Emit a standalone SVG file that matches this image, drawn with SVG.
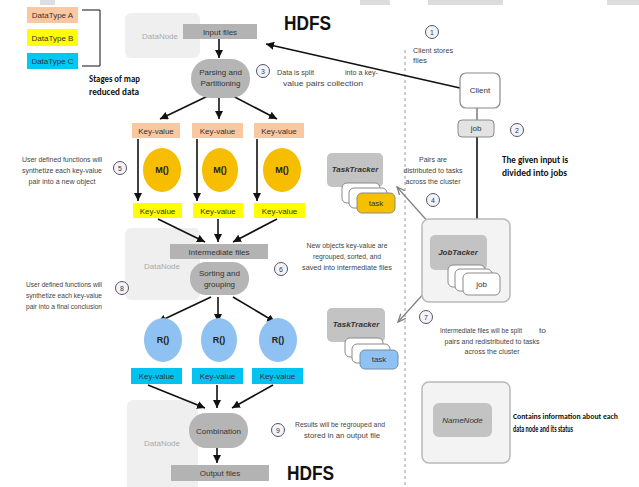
<svg xmlns="http://www.w3.org/2000/svg" width="639" height="487" viewBox="0 0 639 487">
  <defs>
    <marker id="ah" markerUnits="userSpaceOnUse" markerWidth="9" markerHeight="8" refX="8" refY="4" orient="auto">
      <path d="M0,0 L8,4 L0,8 z" fill="#111"/>
    </marker>
    <marker id="ahg" markerUnits="userSpaceOnUse" markerWidth="9" markerHeight="8" refX="8" refY="4" orient="auto">
      <path d="M0,0.5 L8,4 L0,7.5" fill="none" stroke="#808080" stroke-width="1.3"/>
    </marker>
    <style>
      text { font-family: "Liberation Sans", Arial, sans-serif; fill: #333; }
      .lbl { font-size: 8px; text-anchor: middle; }
      .note { font-size: 8px; fill: #444; }
      .sm { font-size: 7.5px; }
      .c { text-anchor: middle; }
      .bold { font-family: Carlito, "Liberation Sans", sans-serif; font-weight: bold; font-size: 10px; fill: #111; }
      .bsm { font-size: 8.5px; }
      .hdfs { font-weight: bold; font-size: 21px; fill: #111; }
      .dn { fill: #efefef; }
      .dntxt { font-size: 8px; fill: #aaa; text-anchor: middle; }
      .bar { fill: #b3b3b3; }
      .pill { fill: #b5b5b5; }
      .kvA { fill: #f9c8a0; }
      .kvB { fill: #ffff00; }
      .kvC { fill: #00c3f2; }
      .map { fill: #f7bd00; }
      .red { fill: #8fc2f2; }
      .fn { font-size: 9px; font-weight: bold; text-anchor: middle; fill: #222; }
      .arrow { stroke: #111; stroke-width: 1.6; fill: none; marker-end: url(#ah); }
      .garrow { stroke: #808080; stroke-width: 1.2; fill: none; marker-end: url(#ahg); }
      .step circle { fill: #f3f4fa; stroke: #556; stroke-width: 1; }
      .step text { font-size: 7px; text-anchor: middle; fill: #334; }
      .card { fill: #ffffff; stroke: #8a8a8a; stroke-width: 1; }
      .tracker { fill: #c3c3c3; }
      .ital { font-size: 8px; font-style: italic; font-weight: bold; text-anchor: middle; fill: #333; }
      .frame { fill: #f3f3f3; stroke: #b9b9b9; stroke-width: 1.5; }
    </style>
  </defs>

  <rect width="639" height="487" fill="#ffffff"/>

  <!-- scan strip along the top edge -->
  <g id="top-strip" fill="#d4d4d4" opacity="0.8">
    <rect x="40" y="0" width="15" height="5"/>
    <rect x="360" y="0" width="30" height="5"/>
    <rect x="428" y="0" width="75" height="5"/>
    <rect x="607" y="0" width="32" height="5"/>
  </g>

  <!-- legend -->
  <g id="legend">
    <rect class="kvA" x="27" y="7" width="51" height="16"/>
    <text class="lbl" x="52.5" y="18">DataType A</text>
    <rect class="kvB" x="27" y="29" width="51" height="17"/>
    <text class="lbl" x="52.5" y="40.5">DataType B</text>
    <rect x="27" y="53" width="51" height="16" fill="#00c8f5"/>
    <text class="lbl" x="52.5" y="64">DataType C</text>
    <polyline points="82,10 100,10 100,66 82,66" fill="none" stroke="#111" stroke-width="1"/>
    <text class="bold" x="89" y="82" textLength="51" lengthAdjust="spacingAndGlyphs">Stages of map</text>
    <text class="bold" x="89" y="95" textLength="50" lengthAdjust="spacingAndGlyphs">reduced data</text>
  </g>

  <!-- HDFS labels -->
  <text class="hdfs" x="284" y="30" textLength="47" lengthAdjust="spacingAndGlyphs">HDFS</text>
  <text class="hdfs" x="287" y="480" textLength="47" lengthAdjust="spacingAndGlyphs">HDFS</text>

  <!-- data nodes (background panels) -->
  <g id="datanode-top">
    <rect class="dn" x="125" y="13" width="75" height="45" rx="6"/>
    <text class="dntxt" x="160" y="39">DataNode</text>
  </g>
  <g id="datanode-mid">
    <rect class="dn" x="125" y="228" width="75" height="72" rx="6"/>
    <text class="dntxt" x="162" y="269">DataNode</text>
  </g>
  <g id="datanode-bottom">
    <rect class="dn" x="127" y="400" width="71" height="95" rx="6"/>
    <text class="dntxt" x="162" y="446">DataNode</text>
  </g>

  <!-- separator -->
  <line x1="405" y1="50" x2="405" y2="487" stroke="#9a9a9a" stroke-width="1" stroke-dasharray="3,3"/>

  <!-- connectors -->
  <g id="connectors">
    <line class="arrow" x1="460" y1="88" x2="266" y2="44"/>
    <line x1="477" y1="108" x2="477" y2="120" stroke="#555" stroke-width="1.2"/>
    <line class="arrow" x1="477" y1="137" x2="477" y2="236"/>
    <line class="garrow" x1="438" y1="233" x2="397" y2="187"/>
    <line class="garrow" x1="445" y1="270" x2="398" y2="322"/>

    <line class="arrow" x1="219" y1="39" x2="219" y2="58"/>
    <line class="arrow" x1="212" y1="94" x2="160" y2="119"/>
    <line class="arrow" x1="219" y1="98" x2="219" y2="119"/>
    <line class="arrow" x1="229" y1="94" x2="277" y2="119"/>

    <line class="arrow" x1="138" y1="139" x2="138" y2="201"/>
    <line class="arrow" x1="197" y1="139" x2="197" y2="201"/>
    <line class="arrow" x1="257" y1="139" x2="257" y2="201"/>

    <line class="arrow" x1="158" y1="219" x2="205" y2="242"/>
    <line class="arrow" x1="218" y1="219" x2="218" y2="242"/>
    <line class="arrow" x1="277" y1="219" x2="233" y2="242"/>

    <line class="arrow" x1="211" y1="297" x2="158" y2="322"/>
    <line class="arrow" x1="218" y1="297" x2="218" y2="322"/>
    <line class="arrow" x1="233" y1="297" x2="275" y2="322"/>

    <line class="arrow" x1="148" y1="385" x2="205" y2="408"/>
    <line class="arrow" x1="217" y1="385" x2="217" y2="408"/>
    <line class="arrow" x1="273" y1="385" x2="232" y2="408"/>

    <line class="arrow" x1="217" y1="448" x2="217" y2="463"/>
  </g>

  <!-- map side -->
  <g id="input-files">
    <rect class="bar" x="183" y="24" width="74" height="15"/>
    <text class="lbl" x="220" y="34.5">Input files</text>
  </g>
  <g id="parsing">
    <rect class="pill" x="191" y="59" width="59" height="39" rx="19"/>
    <text class="lbl" x="220.5" y="75">Parsing and</text>
    <text class="lbl" x="220.5" y="86">Partitioning</text>
  </g>

  <g id="kv-a1"><rect class="kvA" x="132" y="123" width="48" height="15"/><text class="lbl" x="156" y="133.5">Key-value</text></g>
  <g id="kv-a2"><rect class="kvA" x="192" y="123" width="51" height="15"/><text class="lbl" x="217.5" y="133.5">Key-value</text></g>
  <g id="kv-a3"><rect class="kvA" x="254" y="123" width="50" height="15"/><text class="lbl" x="279" y="133.5">Key-value</text></g>

  <g id="map-1"><ellipse class="map" cx="162" cy="170" rx="19" ry="22"/><text class="fn" x="162" y="173">M()</text></g>
  <g id="map-2"><ellipse class="map" cx="220" cy="170" rx="18" ry="22"/><text class="fn" x="220" y="173">M()</text></g>
  <g id="map-3"><ellipse class="map" cx="282" cy="170" rx="19" ry="22"/><text class="fn" x="282" y="173">M()</text></g>

  <g id="kv-b1"><rect class="kvB" x="133" y="203" width="49" height="15"/><text class="lbl" x="157.5" y="213.5">Key-value</text></g>
  <g id="kv-b2"><rect class="kvB" x="193" y="203" width="50" height="15"/><text class="lbl" x="218" y="213.5">Key-value</text></g>
  <g id="kv-b3"><rect class="kvB" x="254" y="203" width="51" height="15"/><text class="lbl" x="279.5" y="213.5">Key-value</text></g>

  <g id="intermediate-files">
    <rect class="bar" x="170" y="244" width="98" height="15"/>
    <text class="lbl" x="219" y="254.5">Intermediate files</text>
  </g>
  <g id="sorting">
    <rect class="pill" x="190" y="262" width="59" height="33" rx="16"/>
    <text class="lbl" x="219.5" y="276">Sorting and</text>
    <text class="lbl" x="219.5" y="287">grouping</text>
  </g>

  <g id="reduce-1"><ellipse class="red" cx="163" cy="340" rx="19" ry="22"/><text class="fn" x="163" y="343">R()</text></g>
  <g id="reduce-2"><ellipse class="red" cx="219" cy="340" rx="18" ry="22"/><text class="fn" x="219" y="343">R()</text></g>
  <g id="reduce-3"><ellipse class="red" cx="278" cy="340" rx="19" ry="22"/><text class="fn" x="278" y="343">R()</text></g>

  <g id="kv-c1"><rect class="kvC" x="131" y="368" width="51" height="16"/><text class="lbl" x="156.5" y="379">Key-value</text></g>
  <g id="kv-c2"><rect class="kvC" x="192" y="368" width="51" height="16"/><text class="lbl" x="217.5" y="379">Key-value</text></g>
  <g id="kv-c3"><rect class="kvC" x="252" y="368" width="51" height="16"/><text class="lbl" x="277.5" y="379">Key-value</text></g>

  <g id="combination">
    <rect class="pill" x="189" y="413" width="59" height="35" rx="17"/>
    <text class="lbl" x="218.5" y="433.5">Combination</text>
  </g>
  <g id="output-files">
    <rect class="bar" x="171" y="465" width="98" height="16"/>
    <text class="lbl" x="220" y="476">Output files</text>
  </g>

  <!-- cluster side -->
  <g id="client">
    <rect x="460" y="73" width="40" height="35" rx="6" fill="#fff" stroke="#8a8a8a" stroke-width="1.2"/>
    <text class="lbl" x="480" y="93">Client</text>
  </g>
  <g id="job">
    <rect x="458" y="120" width="36" height="17" rx="4" fill="#e3e3e3" stroke="#8a8a8a" stroke-width="1"/>
    <text class="lbl" x="476" y="131">job</text>
  </g>

  <g id="tasktracker-1">
    <rect class="tracker" x="327" y="153" width="56" height="34" rx="5"/>
    <text class="ital" x="355" y="172">TaskTracker</text>
    <rect class="card" x="342" y="183" width="38" height="20" rx="5"/>
    <rect class="card" x="349" y="188" width="38" height="20" rx="5"/>
    <rect x="357" y="193" width="38" height="20" rx="5" fill="#f5c000" stroke="#8a8a8a" stroke-width="1"/>
    <text class="lbl" x="376" y="206">task</text>
  </g>

  <g id="jobtracker">
    <rect class="frame" x="422" y="219" width="88" height="83" rx="7"/>
    <rect class="tracker" x="430" y="235" width="57" height="35" rx="5"/>
    <text class="ital" x="458" y="255">JobTacker</text>
    <rect class="card" x="448" y="265" width="37" height="22" rx="5" fill="#ececec"/>
    <rect class="card" x="455" y="269" width="37" height="22" rx="5" fill="#ececec"/>
    <rect class="card" x="463" y="273" width="37" height="22" rx="5" fill="#ececec"/>
    <text class="lbl" x="481.5" y="287">job</text>
  </g>

  <g id="tasktracker-2">
    <rect class="tracker" x="327" y="308" width="58" height="34" rx="5"/>
    <text class="ital" x="356" y="327">TaskTracker</text>
    <rect class="card" x="345" y="338" width="38" height="19" rx="5"/>
    <rect class="card" x="352" y="344" width="38" height="19" rx="5"/>
    <rect x="360" y="350" width="38" height="19" rx="5" fill="#8fc2f2" stroke="#6d8fb0" stroke-width="1"/>
    <text class="lbl" x="379" y="362">task</text>
  </g>

  <g id="namenode">
    <rect class="frame" x="422" y="382" width="88" height="81" rx="7"/>
    <rect class="tracker" x="433" y="403" width="59" height="34" rx="6"/>
    <text class="lbl" x="462.5" y="423" font-style="italic">NameNode</text>
  </g>

  <!-- step markers -->
  <g class="step">
    <g id="step-1"><circle cx="432" cy="32" r="6.5"/><text x="432" y="34.5">1</text></g>
    <g id="step-2"><circle cx="517" cy="130" r="6.5"/><text x="517" y="132.5">2</text></g>
    <g id="step-3"><circle cx="263" cy="71" r="6.5"/><text x="263" y="73.5">3</text></g>
    <g id="step-4"><circle cx="433" cy="200" r="6.5"/><text x="433" y="202.5">4</text></g>
    <g id="step-5"><circle cx="120" cy="168" r="6.5"/><text x="120" y="170.5">5</text></g>
    <g id="step-6"><circle cx="281" cy="269" r="6.5"/><text x="281" y="271.5">6</text></g>
    <g id="step-7"><circle cx="426" cy="317" r="6.5"/><text x="426" y="319.5">7</text></g>
    <g id="step-8"><circle cx="122" cy="288" r="6.5"/><text x="122" y="290.5">8</text></g>
    <g id="step-9"><circle cx="278" cy="430" r="6.5"/><text x="278" y="432.5">9</text></g>
  </g>

  <!-- step notes -->
  <g id="notes">
    <text class="note" x="413" y="53" textLength="40" lengthAdjust="spacingAndGlyphs">Client stores</text>
    <text class="note" x="413" y="63" textLength="14" lengthAdjust="spacingAndGlyphs">files</text>

    <text class="note" x="277" y="75" textLength="37" lengthAdjust="spacingAndGlyphs">Data is split</text>
    <text class="note" x="345" y="75" textLength="33" lengthAdjust="spacingAndGlyphs">into a key-</text>
    <text class="note" x="283" y="86" textLength="80" lengthAdjust="spacingAndGlyphs">value pairs collection</text>

    <text class="note c" x="433" y="162" textLength="28" lengthAdjust="spacingAndGlyphs">Pairs are</text>
    <text class="note c" x="433" y="173" textLength="59" lengthAdjust="spacingAndGlyphs">distributed to tasks</text>
    <text class="note c" x="433" y="184" textLength="55" lengthAdjust="spacingAndGlyphs">across the cluster</text>

    <text class="note sm c" x="62" y="162" textLength="80" lengthAdjust="spacingAndGlyphs">User defined functions will</text>
    <text class="note sm c" x="62" y="173" textLength="80" lengthAdjust="spacingAndGlyphs">synthetize each key-value</text>
    <text class="note sm c" x="62" y="184" textLength="67" lengthAdjust="spacingAndGlyphs">pair into a new object</text>

    <text class="note c" x="347" y="248" textLength="81" lengthAdjust="spacingAndGlyphs">New objects key-value are</text>
    <text class="note c" x="347" y="259" textLength="68" lengthAdjust="spacingAndGlyphs">regrouped, sorted, and</text>
    <text class="note c" x="347" y="270" textLength="90" lengthAdjust="spacingAndGlyphs">saved into intermediate files</text>

    <text class="note sm c" x="64" y="287" textLength="76" lengthAdjust="spacingAndGlyphs">User defined functions will</text>
    <text class="note sm c" x="64" y="298" textLength="76" lengthAdjust="spacingAndGlyphs">synthetize each key-value</text>
    <text class="note sm c" x="64" y="309" textLength="76" lengthAdjust="spacingAndGlyphs">pair into a final conclusion</text>

    <text class="note sm" x="440" y="333" textLength="82" lengthAdjust="spacingAndGlyphs">Intermediate files will be split</text>
    <text class="note" x="539" y="333" textLength="7" lengthAdjust="spacingAndGlyphs">to</text>
    <text class="note c" x="492" y="344" textLength="95" lengthAdjust="spacingAndGlyphs">pairs and redistributed to tasks</text>
    <text class="note c" x="492" y="354" textLength="55" lengthAdjust="spacingAndGlyphs">across the cluster</text>

    <text class="note" x="295" y="427" textLength="90" lengthAdjust="spacingAndGlyphs">Results will be regrouped and</text>
    <text class="note c" x="342" y="438" textLength="76" lengthAdjust="spacingAndGlyphs">stored in an output file</text>
  </g>

  <!-- descriptive captions -->
  <g id="captions">
    <text class="bold" x="502" y="163" textLength="66" lengthAdjust="spacingAndGlyphs">The given input is</text>
    <text class="bold" x="502" y="176" textLength="65" lengthAdjust="spacingAndGlyphs">divided into jobs</text>
    <text class="bold bsm" x="513" y="419" textLength="105" lengthAdjust="spacingAndGlyphs">Contains information about each</text>
    <text class="bold" x="513" y="432" textLength="60" lengthAdjust="spacingAndGlyphs">data node and its status</text>
  </g>
</svg>
